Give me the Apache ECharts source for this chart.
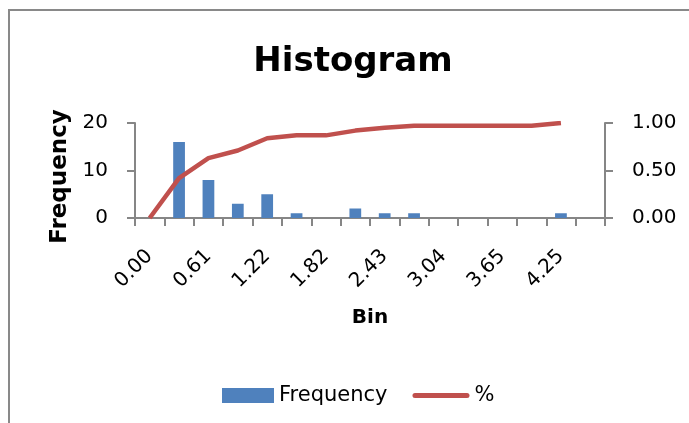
<!DOCTYPE html>
<html>
<head>
<meta charset="utf-8">
<script src="https://cdn.jsdelivr.net/npm/echarts@6/dist/echarts.min.js"></script>
<style>
  html, body { margin: 0; padding: 0; background: #ffffff; }
  #chart { width: 689px; height: 423px; }
</style>
</head>
<body>
<div id="chart"></div>
<script>
// Bin upper edges (the last bin collects everything above)
const bins = ['0.00', '0.30', '0.61', '0.91', '1.22', '1.52', '1.82', '2.13',
              '2.43', '2.74', '3.04', '3.34', '3.65', '3.95', '4.25', 'More'];
// Count of observations per bin
const frequency = [0, 16, 8, 3, 5, 1, 0, 2, 1, 1, 0, 0, 0, 0, 1, 0];
// Cumulative share of observations
const cumulative = [0.00, 0.42, 0.63, 0.71, 0.84, 0.87, 0.87, 0.92, 0.95, 0.97,
                    0.97, 0.97, 0.97, 0.97, 1.00, null];
// Tick values on the two value axes
const freqTicks = [0, 10, 20];
const pctTicks = [0.00, 0.50, 1.00];

const FONT = 'DejaVu Sans';
const AXIS_GREY = '#868686';
const BAR_BLUE = '#4F81BD';
const LINE_RED = '#C0504D';

// Legend keys share one 57x15 box: a 52px block for the bars, a rounded stroke for the line
const BAR_KEY = 'path://M0,0 M57,15 M5,0 L57,0 L57,15 L5,15 Z';
const LINE_KEY = 'path://M0,0 M57,15 M2.5,5 L54.5,5 A2.5,2.5 0 0 1 54.5,10 L2.5,10 A2.5,2.5 0 0 1 2.5,5 Z';

const chart = echarts.init(document.getElementById('chart'), null, { renderer: 'canvas' });

chart.setOption({
  backgroundColor: '#ffffff',
  animation: false,
  title: {
    text: 'Histogram',
    left: 348,
    top: 40,
    textAlign: 'center',
    textStyle: { fontFamily: FONT, fontWeight: 'bold', fontSize: 34, color: '#000000' }
  },
  legend: {
    left: 212,
    top: 380,
    itemWidth: 57,
    itemHeight: 15,
    itemGap: 25,
    textStyle: { fontFamily: FONT, fontSize: 21, color: '#000000' },
    data: [
      { name: 'Frequency', icon: BAR_KEY, itemStyle: { color: BAR_BLUE, borderWidth: 0 } },
      { name: '%', icon: LINE_KEY, itemStyle: { color: LINE_RED, borderWidth: 0 } }
    ]
  },
  graphic: [
    {
      type: 'polyline',
      silent: true,
      shape: { points: [[9, 423], [9, 10], [689, 10]] },
      style: { stroke: '#898989', lineWidth: 2, fill: null }
    }
  ],
  grid: { left: 135, right: 84, top: 123, bottom: 205 },
  xAxis: {
    type: 'category',
    data: bins,
    boundaryGap: true,
    name: 'Bin',
    nameLocation: 'middle',
    nameGap: 90,
    nameTextStyle: { fontFamily: FONT, fontWeight: 'bold', fontSize: 20, color: '#000000' },
    axisLine: { lineStyle: { color: AXIS_GREY, width: 2 } },
    axisTick: { show: true, interval: 0, length: 8, alignWithLabel: false,
                lineStyle: { color: AXIS_GREY, width: 2 } },
    axisLabel: { interval: 1, rotate: 45, margin: 35,
                 fontFamily: FONT, fontSize: 20, color: '#000000' },
    splitLine: { show: false }
  },
  yAxis: [
    {
      type: 'value',
      min: freqTicks[0],
      max: freqTicks[freqTicks.length - 1],
      interval: freqTicks[1] - freqTicks[0],
      name: 'Frequency',
      nameLocation: 'middle',
      nameGap: 60,
      nameRotate: 90,
      nameTextStyle: { fontFamily: FONT, fontWeight: 'bold', fontSize: 23, color: '#000000',
                       padding: [0, 12, 0, 0] },
      axisLine: { show: true, lineStyle: { color: AXIS_GREY, width: 2 } },
      axisTick: { show: true, length: 8, lineStyle: { color: AXIS_GREY, width: 2 } },
      axisLabel: { margin: 27, fontFamily: FONT, fontSize: 20, color: '#000000' },
      splitLine: { show: false }
    },
    {
      type: 'value',
      position: 'right',
      min: pctTicks[0],
      max: pctTicks[pctTicks.length - 1],
      interval: pctTicks[1] - pctTicks[0],
      axisLine: { show: true, lineStyle: { color: AXIS_GREY, width: 2 } },
      axisTick: { show: true, length: 8, lineStyle: { color: AXIS_GREY, width: 2 } },
      axisLabel: { margin: 27, fontFamily: FONT, fontSize: 20, color: '#000000',
                   formatter: v => v.toFixed(2) },
      splitLine: { show: false }
    }
  ],
  series: [
    {
      name: 'Frequency',
      type: 'bar',
      yAxisIndex: 0,
      data: frequency,
      barWidth: '40%',
      itemStyle: { color: BAR_BLUE }
    },
    {
      name: '%',
      type: 'line',
      yAxisIndex: 1,
      data: cumulative,
      symbol: 'none',
      connectNulls: false,
      lineStyle: { color: LINE_RED, width: 4.5 },
      itemStyle: { color: LINE_RED }
    }
  ]
});
</script>
</body>
</html>
